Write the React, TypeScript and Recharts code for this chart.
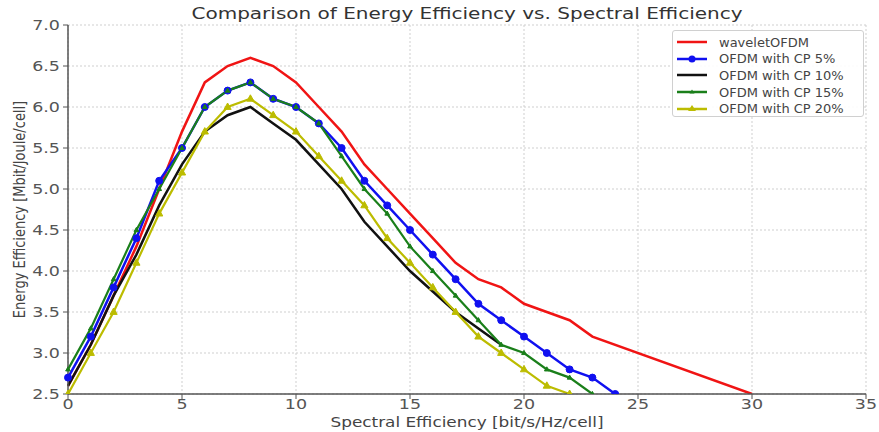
import { CartesianGrid, Line, LineChart, XAxis, YAxis } from 'recharts';

const spectral = [0, 1, 2, 3, 4, 5, 6, 7, 8, 9, 10, 11, 12, 13, 14, 15, 16, 17, 18, 19, 20, 21, 22, 23, 24, 25, 26, 27, 28, 29, 30];

const wavelet = [2.6, 3.1, 3.7, 4.3, 5.0, 5.7, 6.3, 6.5, 6.6, 6.5, 6.3, 6.0, 5.7, 5.3, 5.0, 4.7, 4.4, 4.1, 3.9, 3.8, 3.6, 3.5, 3.4, 3.2, null, null, null, null, null, null, 2.5];
const cp5 = [2.7, 3.2, 3.8, 4.4, 5.1, 5.5, 6.0, 6.2, 6.3, 6.1, 6.0, 5.8, 5.5, 5.1, 4.8, 4.5, 4.2, 3.9, 3.6, 3.4, 3.2, 3.0, 2.8, 2.7, 2.5];
const cp10 = [2.6, 3.1, 3.7, 4.2, 4.8, 5.3, 5.7, 5.9, 6.0, 5.8, 5.6, 5.3, 5.0, 4.6, 4.3, 4.0, 3.75, 3.5, 3.3, 3.1];
const cp15 = [2.8, 3.3, 3.9, 4.5, 5.0, 5.5, 6.0, 6.2, 6.3, 6.1, 6.0, 5.8, 5.4, 5.0, 4.7, 4.3, 4.0, 3.7, 3.4, 3.1, 3.0, 2.8, 2.7, 2.5];
const cp20 = [2.5, 3.0, 3.5, 4.1, 4.7, 5.2, 5.7, 6.0, 6.1, 5.9, 5.7, 5.4, 5.1, 4.8, 4.4, 4.1, 3.8, 3.5, 3.2, 3.0, 2.8, 2.6, 2.5];

const xTicks = [0, 5, 10, 15, 20, 25, 30, 35];
const yTicks = [2.5, 3.0, 3.5, 4.0, 4.5, 5.0, 5.5, 6.0, 6.5, 7.0];

const rows = spectral.map((x, i) => ({
  x,
  wavelet: wavelet[i] ?? null,
  cp5: cp5[i] ?? null,
  cp10: cp10[i] ?? null,
  cp15: cp15[i] ?? null,
  cp20: cp20[i] ?? null,
}));

const FONT = '"DejaVu Sans", sans-serif';
// the reference is stretched sideways a bit, so text is widened to match
const STRETCH = 1.25;

const series = [
  { key: 'wavelet', name: 'waveletOFDM', color: '#f01414', marker: 'none' },
  { key: 'cp5', name: 'OFDM with CP 5%', color: '#1010f0', marker: 'circle' },
  { key: 'cp10', name: 'OFDM with CP 10%', color: '#111111', marker: 'none' },
  { key: 'cp15', name: 'OFDM with CP 15%', color: '#1a7f1a', marker: 'small' },
  { key: 'cp20', name: 'OFDM with CP 20%', color: '#bcbc00', marker: 'tri' },
];

const triangleDot = (size: number, color: string) => (props: any) => {
  const { cx, cy, index, value } = props;
  if (cx == null || cy == null || value == null || Number.isNaN(cy)) return <g key={`t-${index}`} />;
  const h = size;
  return (
    <polygon
      key={`t-${index}`}
      points={`${cx},${cy - h} ${cx - h * 0.9},${cy + h * 0.6} ${cx + h * 0.9},${cy + h * 0.6}`}
      fill={color}
      stroke={color}
    />
  );
};

const XTick = (props: any) => {
  const { x, y, payload } = props;
  return (
    <text
      transform={`translate(${x}, ${y + 5}) scale(${STRETCH}, 1)`}
      textAnchor="middle"
      dominantBaseline="central"
      fill="#555"
      fontSize={14}
      fontFamily={FONT}
    >
      {payload.value}
    </text>
  );
};

const YTick = (props: any) => {
  const { x, y, payload } = props;
  return (
    <text
      transform={`translate(${x}, ${y}) scale(${STRETCH}, 1)`}
      textAnchor="end"
      dominantBaseline="central"
      fill="#555"
      fontSize={14}
      fontFamily={FONT}
    >
      {Number(payload.value).toFixed(1)}
    </text>
  );
};

const YLabel = (props: any) => {
  const { viewBox } = props;
  const x = viewBox.x - 1;
  const y = viewBox.y + viewBox.height / 2;
  return (
    <text
      transform={`translate(${x}, ${y}) scale(${STRETCH}, 1) rotate(-90)`}
      textAnchor="middle"
      dominantBaseline="central"
      fill="#444"
      fontSize={13}
      fontFamily={FONT}
    >
      Energy Efficiency [Mbit/Joule/cell]
    </text>
  );
};

const XLabel = (props: any) => {
  const { viewBox } = props;
  const x = viewBox.x + viewBox.width / 2;
  return (
    <text
      transform={`translate(${x}, 423) scale(${STRETCH}, 1)`}
      textAnchor="middle"
      dominantBaseline="central"
      fill="#444"
      fontSize={13.5}
      fontFamily={FONT}
    >
      Spectral Efficiency [bit/s/Hz/cell]
    </text>
  );
};

const LegendBox = () => (
  <div
    style={{
      position: 'absolute',
      left: 672,
      top: 30,
      width: 192,
      height: 87,
      border: '1px solid #d0d0d0',
      borderRadius: 3,
      background: 'rgba(255,255,255,0.9)',
      fontFamily: FONT,
      fontSize: 13,
      color: '#444',
      boxSizing: 'border-box',
      paddingTop: 3,
    }}
  >
    {series.map((s) => (
      <div key={s.key} style={{ display: 'flex', alignItems: 'center', height: 16.6 }}>
        <svg width={46} height={12} style={{ flex: 'none' }}>
          <line x1={4} x2={34} y1={6} y2={6} stroke={s.color} strokeWidth={2.5} />
          {s.marker === 'circle' && <circle cx={19} cy={6} r={3.5} fill={s.color} />}
          {s.marker === 'small' && <polygon points="19,3.5 16.5,7.5 21.5,7.5" fill={s.color} />}
          {s.marker === 'tri' && <polygon points="19,2 15,8 23,8" fill={s.color} />}
        </svg>
        <span style={{ whiteSpace: 'nowrap' }}>{s.name}</span>
      </div>
    ))}
  </div>
);

const App = () => {
  return (
    <div style={{ position: 'absolute', left: 0, top: 0, width: 879, height: 432, background: '#fff' }}>
      <div
        style={{
          position: 'absolute',
          left: 68,
          top: 4,
          width: 798,
          textAlign: 'center',
          fontFamily: FONT,
          fontSize: 16,
          lineHeight: '20px',
          color: '#333',
          transform: `scaleX(${STRETCH})`,
        }}
      >
        Comparison of Energy Efficiency vs. Spectral Efficiency
      </div>
      <LineChart width={879} height={432} data={rows} margin={{ top: 25, right: 13, left: 20, bottom: 0 }}>
        <CartesianGrid strokeDasharray="2 2" stroke="#cfcfcf" />
        <XAxis
          dataKey="x"
          type="number"
          domain={[0, 35]}
          ticks={xTicks}
          height={38}
          tick={<XTick />}
          tickSize={5}
          tickMargin={0}
          axisLine={{ stroke: '#555', strokeWidth: 1.5 }}
          tickLine={{ stroke: '#555' }}
          label={<XLabel />}
        />
        <YAxis
          type="number"
          domain={[2.5, 7]}
          ticks={yTicks}
          width={48}
          allowDataOverflow
          tick={<YTick />}
          tickSize={5}
          tickMargin={3}
          axisLine={{ stroke: '#555', strokeWidth: 1.5 }}
          tickLine={{ stroke: '#555' }}
          label={<YLabel />}
        />
        <Line
          dataKey="wavelet"
          stroke="#f01414"
          strokeWidth={2.5}
          dot={false}
          connectNulls
          isAnimationActive={false}
        />
        <Line
          dataKey="cp5"
          stroke="#1010f0"
          strokeWidth={2.5}
          dot={{ r: 3.5, fill: '#1010f0', stroke: '#1010f0', strokeWidth: 1 }}
          isAnimationActive={false}
        />
        <Line dataKey="cp10" stroke="#111111" strokeWidth={2.5} dot={false} isAnimationActive={false} />
        <Line
          dataKey="cp15"
          stroke="#1a7f1a"
          strokeWidth={2.2}
          dot={triangleDot(2.6, '#1a7f1a')}
          isAnimationActive={false}
        />
        <Line
          dataKey="cp20"
          stroke="#bcbc00"
          strokeWidth={2.2}
          dot={triangleDot(4, '#bcbc00')}
          isAnimationActive={false}
        />
      </LineChart>
      <LegendBox />
    </div>
  );
};

export default App;
